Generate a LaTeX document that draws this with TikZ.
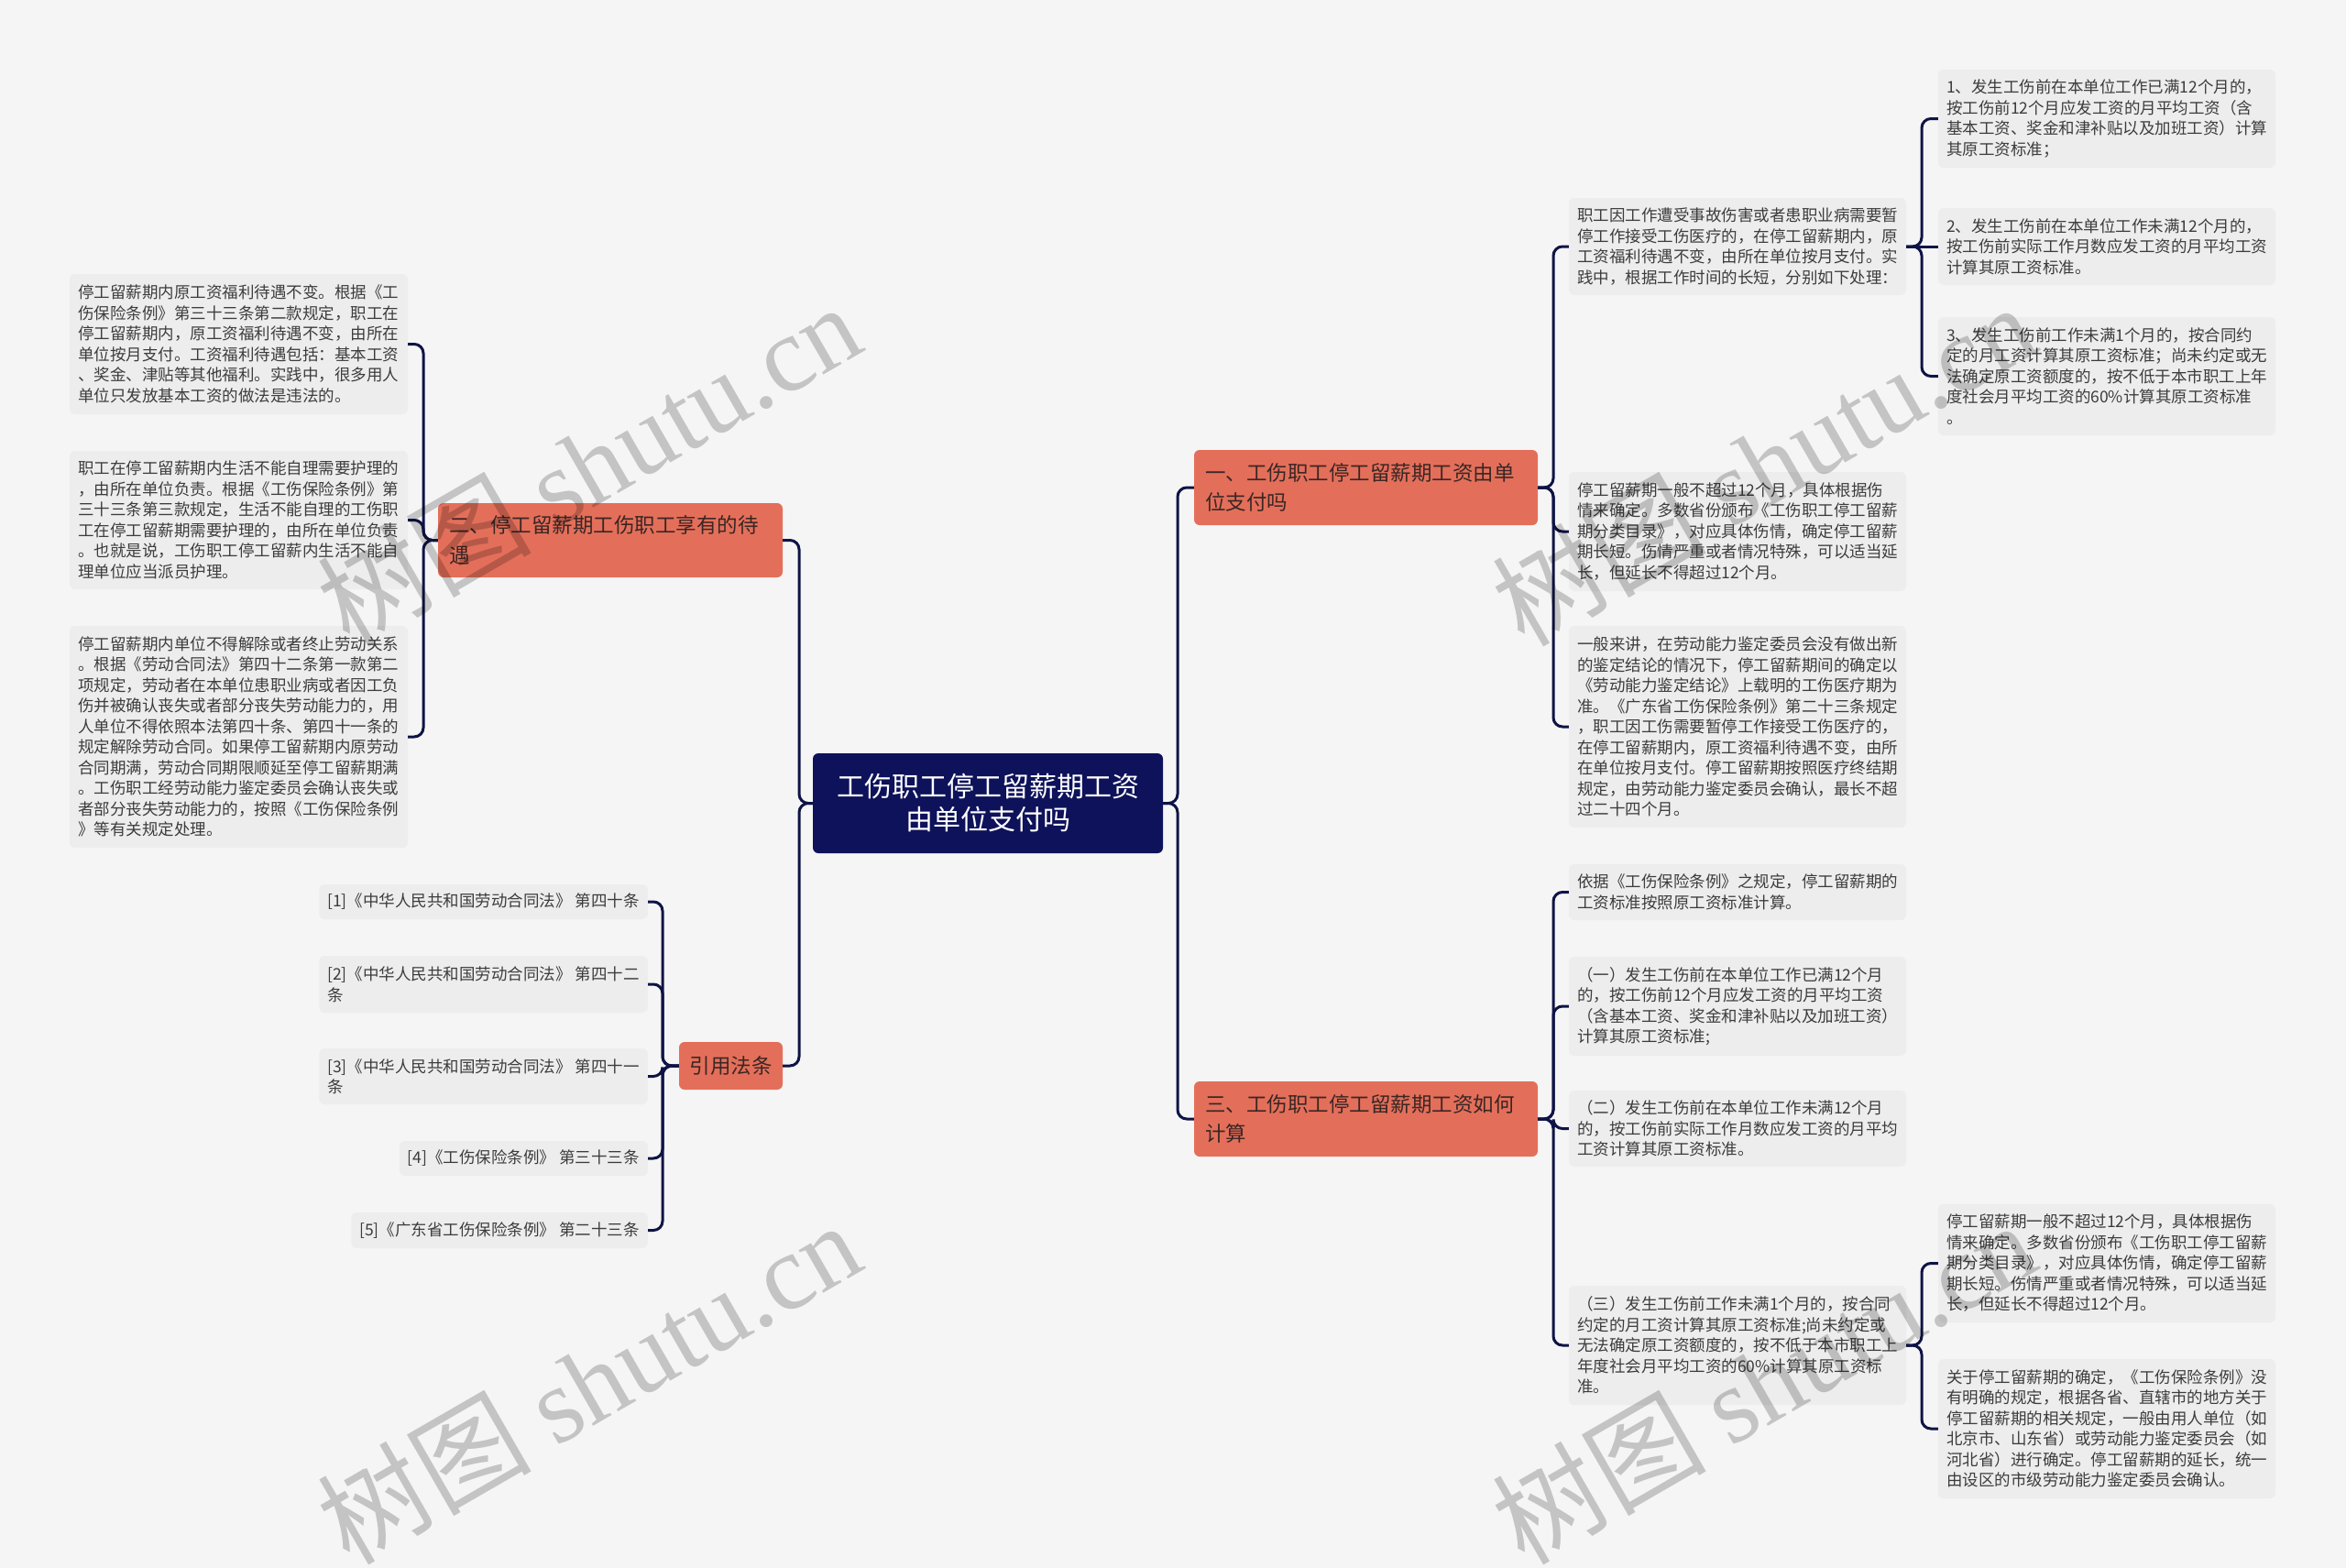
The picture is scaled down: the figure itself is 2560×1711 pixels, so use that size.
\documentclass[tikz,border=0pt]{standalone}
\usepackage{fontspec}
\setmainfont{Noto Sans CJK SC}
\newfontfamily\wmlatin{Liberation Serif}
\usetikzlibrary{calc}
\definecolor{bgc}{HTML}{F5F5F5}
\definecolor{leafc}{HTML}{EDEDED}
\definecolor{leaftxt}{HTML}{3C3C3C}
\definecolor{orgc}{HTML}{E36F5A}
\definecolor{orgtxt}{HTML}{3A2624}
\definecolor{cenc}{HTML}{0E125A}
\definecolor{linec}{HTML}{0F1446}
\begin{document}
\begin{tikzpicture}[x=1pt,y=-1pt,
  leaf/.style={fill=leafc, rounded corners=6pt, inner xsep=9pt, inner ysep=0pt, align=left, text=leaftxt, font=\fontsize{17.5}{22.5}\selectfont},
  orgbox/.style={fill=orgc, rounded corners=6pt, inner xsep=12pt, inner ysep=0pt, align=left, text=orgtxt, font=\fontsize{22.5}{32.5}\selectfont},
  cenbox/.style={fill=cenc, rounded corners=6pt, inner sep=0pt, align=center, text=white, font=\fontsize{30}{36}\selectfont},
  conn/.style={draw=linec, line width=3pt, rounded corners=10pt},
  wm/.style={anchor=base west, rotate=30, text=black, opacity=0.2, inner sep=0pt, font=\fontsize{117}{117}\selectfont}]
\useasboundingbox (0,0) rectangle (2560,1711);
\fill[bgc] (0,0) rectangle (2560,1711);

% trunk x positions
\coordinate (tL) at (872,0);
\coordinate (tR) at (1285,0);
\coordinate (tA) at (462,0);
\coordinate (tB) at (723,0);
\coordinate (tC) at (1695,0);
\coordinate (tD) at (2097,0);

% central
\node[cenbox, minimum width=382pt, minimum height=109pt] (cen) at (1078,876.5) {工伤职工停工留薪期工资\\由单位支付吗};

% main branches
\node[orgbox, text width=351pt, minimum height=82pt] (n1) at (1490.5,532) {一、工伤职工停工留薪期工资由单\\位支付吗};
\node[orgbox, text width=351pt, minimum height=82pt] (n3) at (1490.5,1221) {三、工伤职工停工留薪期工资如何\\计算};
\node[orgbox, text width=352pt, minimum height=81pt] (n2) at (666,589.5) {二、停工留薪期工伤职工享有的待\\遇};
\node[orgbox, align=center, inner xsep=0pt, minimum width=113pt, minimum height=52pt] (n4) at (797.5,1163) {引用法条};

% left leaves
\node[leaf, text width=351pt, minimum height=153pt] (l1) at (260.5,375.5) {停工留薪期内原工资福利待遇不变。根据《工\\伤保险条例》第三十三条第二款规定，职工在\\停工留薪期内，原工资福利待遇不变，由所在\\单位按月支付。工资福利待遇包括：基本工资\\、奖金、津贴等其他福利。实践中，很多用人\\单位只发放基本工资的做法是违法的。};
\node[leaf, text width=351pt, minimum height=151pt] (l2) at (260.5,567.5) {职工在停工留薪期内生活不能自理需要护理的\\，由所在单位负责。根据《工伤保险条例》第\\三十三条第三款规定，生活不能自理的工伤职\\工在停工留薪期需要护理的，由所在单位负责\\。也就是说，工伤职工停工留薪内生活不能自\\理单位应当派员护理。};
\node[leaf, text width=351pt, minimum height=242pt] (l3) at (260.5,804) {停工留薪期内单位不得解除或者终止劳动关系\\。根据《劳动合同法》第四十二条第一款第二\\项规定，劳动者在本单位患职业病或者因工负\\伤并被确认丧失或者部分丧失劳动能力的，用\\人单位不得依照本法第四十条、第四十一条的\\规定解除劳动合同。如果停工留薪期内原劳动\\合同期满，劳动合同期限顺延至停工留薪期满\\。工伤职工经劳动能力鉴定委员会确认丧失或\\者部分丧失劳动能力的，按照《工伤保险条例\\》等有关规定处理。};

% references
\node[leaf, anchor=east, minimum height=38pt] (r1) at (707,984) {[1]《中华人民共和国劳动合同法》 第四十条};
\node[leaf, anchor=east, minimum height=62pt] (r2) at (707,1074) {[2]《中华人民共和国劳动合同法》 第四十二\\条};
\node[leaf, anchor=east, minimum height=61pt] (r3) at (707,1174.5) {[3]《中华人民共和国劳动合同法》 第四十一\\条};
\node[leaf, anchor=east, minimum height=38pt] (r4) at (707,1264) {[4]《工伤保险条例》 第三十三条};
\node[leaf, anchor=east, minimum height=39pt] (r5) at (707,1342.5) {[5]《广东省工伤保险条例》 第二十三条};

% right leaves of n1
\node[leaf, text width=350pt, minimum height=106pt] (a) at (1896,269) {职工因工作遭受事故伤害或者患职业病需要暂\\停工作接受工伤医疗的，在停工留薪期内，原\\工资福利待遇不变，由所在单位按月支付。实\\践中，根据工作时间的长短，分别如下处理：};
\node[leaf, text width=350pt, minimum height=130pt] (b) at (1896,580) {停工留薪期一般不超过12个月，具体根据伤\\情来确定。多数省份颁布《工伤职工停工留薪\\期分类目录》，对应具体伤情，确定停工留薪\\期长短。伤情严重或者情况特殊，可以适当延\\长，但延长不得超过12个月。};
\node[leaf, text width=350pt, minimum height=220pt] (c) at (1896,793) {一般来讲，在劳动能力鉴定委员会没有做出新\\的鉴定结论的情况下，停工留薪期间的确定以\\《劳动能力鉴定结论》上载明的工伤医疗期为\\准。《广东省工伤保险条例》第二十三条规定\\，职工因工伤需要暂停工作接受工伤医疗的，\\在停工留薪期内，原工资福利待遇不变，由所\\在单位按月支付。停工留薪期按照医疗终结期\\规定，由劳动能力鉴定委员会确认，最长不超\\过二十四个月。};

% children of a
\node[leaf, text width=350pt, minimum height=107pt] (a1) at (2299,129.5) {1、发生工伤前在本单位工作已满12个月的，\\按工伤前12个月应发工资的月平均工资（含\\基本工资、奖金和津补贴以及加班工资）计算\\其原工资标准；};
\node[leaf, text width=350pt, minimum height=84pt] (a2) at (2299,269) {2、发生工伤前在本单位工作未满12个月的，\\按工伤前实际工作月数应发工资的月平均工资\\计算其原工资标准。};
\node[leaf, text width=350pt, minimum height=129pt] (a3) at (2299,410.5) {3、发生工伤前工作未满1个月的，按合同约\\定的月工资计算其原工资标准；尚未约定或无\\法确定原工资额度的，按不低于本市职工上年\\度社会月平均工资的60\%计算其原工资标准\\。};

% right leaves of n3
\node[leaf, text width=350pt, minimum height=61pt] (d) at (1896,973.5) {依据《工伤保险条例》之规定，停工留薪期的\\工资标准按照原工资标准计算。};
\node[leaf, text width=350pt, minimum height=108pt] (e) at (1896,1098) {（一）发生工伤前在本单位工作已满12个月\\的，按工伤前12个月应发工资的月平均工资\\（含基本工资、奖金和津补贴以及加班工资）\\计算其原工资标准;};
\node[leaf, text width=350pt, minimum height=83pt] (f) at (1896,1231.5) {（二）发生工伤前在本单位工作未满12个月\\的，按工伤前实际工作月数应发工资的月平均\\工资计算其原工资标准。};
\node[leaf, text width=350pt, minimum height=130pt] (g) at (1896,1468) {（三）发生工伤前工作未满1个月的，按合同\\约定的月工资计算其原工资标准;尚未约定或\\无法确定原工资额度的，按不低于本市职工上\\年度社会月平均工资的60\%计算其原工资标\\准。};

% children of g
\node[leaf, text width=350pt, minimum height=129pt] (h) at (2299,1378.5) {停工留薪期一般不超过12个月，具体根据伤\\情来确定。多数省份颁布《工伤职工停工留薪\\期分类目录》，对应具体伤情，确定停工留薪\\期长短。伤情严重或者情况特殊，可以适当延\\长，但延长不得超过12个月。};
\node[leaf, text width=350pt, minimum height=152pt] (i) at (2299,1559) {关于停工留薪期的确定，《工伤保险条例》没\\有明确的规定，根据各省、直辖市的地方关于\\停工留薪期的相关规定，一般由用人单位（如\\北京市、山东省）或劳动能力鉴定委员会（如\\河北省）进行确定。停工留薪期的延长，统一\\由设区的市级劳动能力鉴定委员会确认。};

% connectors
\foreach \ch in {n2,n4} \draw[conn] (cen.west) -- (cen.west -| tL) |- (\ch.east);
\foreach \ch in {n1,n3} \draw[conn] (cen.east) -- (cen.east -| tR) |- (\ch.west);
\foreach \ch in {l1,l2,l3} \draw[conn] (n2.west) -- (n2.west -| tA) |- (\ch.east);
\foreach \ch in {r1,r2,r3,r4,r5} \draw[conn] (n4.west) -- (n4.west -| tB) |- (\ch.east);
\foreach \ch in {a,b,c} \draw[conn] (n1.east) -- (n1.east -| tC) |- (\ch.west);
\foreach \ch in {d,e,f,g} \draw[conn] (n3.east) -- (n3.east -| tC) |- (\ch.west);
\foreach \ch in {a1,a3} \draw[conn] (a.east) -- (a.east -| tD) |- (\ch.west);
\draw[conn] (a.east) -- (a2.west);
\foreach \ch in {h,i} \draw[conn] (g.east) -- (g.east -| tD) |- (\ch.west);

% watermarks
\node[wm] (w1) at (381,708) {树图 {\wmlatin shutu.cn}};
\node[wm] (w2) at (1663,708) {树图 {\wmlatin shutu.cn}};
\node[wm] (w3) at (381,1710) {树图 {\wmlatin shutu.cn}};
\node[wm] (w4) at (1663,1710) {树图 {\wmlatin shutu.cn}};
\end{tikzpicture}
\end{document}
